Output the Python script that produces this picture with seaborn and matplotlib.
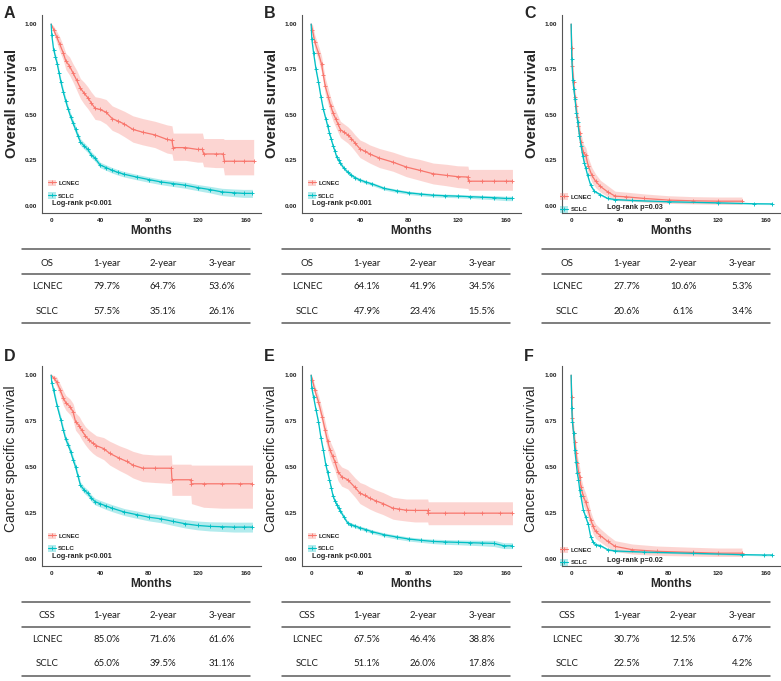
import matplotlib
matplotlib.use("Agg")
import matplotlib.pyplot as plt
import seaborn as sns
from matplotlib.lines import Line2D
from matplotlib.patches import Patch

sns.set_style("white")
plt.rcParams["font.family"] = ["Liberation Sans", "DejaVu Sans"]

RED = "#F8766D"
TEAL = "#00BFC4"

# ---- Kaplan-Meier curves (months, survival, 95% CI) ----
# A: overall survival
a_lcnec_t = [0, 2, 4.5, 7, 10, 12, 15, 18, 21, 24, 27, 30, 33, 36, 40, 45, 50, 55, 60, 67,
             75, 85, 95, 99, 100, 110, 120, 124, 125, 135, 141, 142, 150, 158, 166]
a_lcnec_s = [1.0, 0.97, 0.93, 0.89, 0.84, 0.797, 0.77, 0.73, 0.69, 0.647, 0.62, 0.595, 0.565, 0.536, 0.53,
             0.515, 0.48, 0.465, 0.45, 0.42, 0.405, 0.39, 0.365, 0.36, 0.32, 0.32, 0.31, 0.31, 0.285,
             0.285, 0.285, 0.245, 0.245, 0.245, 0.245]
a_lcnec_lo = [1.0, 0.95, 0.90, 0.85, 0.80, 0.75, 0.72, 0.68, 0.635, 0.59, 0.56, 0.535, 0.505, 0.475, 0.47,
              0.45, 0.415, 0.40, 0.38, 0.35, 0.335, 0.32, 0.29, 0.285, 0.25, 0.25, 0.24, 0.24, 0.215,
              0.21, 0.21, 0.17, 0.17, 0.17, 0.17]
a_lcnec_hi = [1.0, 0.99, 0.96, 0.93, 0.88, 0.84, 0.82, 0.78, 0.745, 0.70, 0.68, 0.655, 0.625, 0.60, 0.595,
              0.585, 0.55, 0.535, 0.52, 0.495, 0.48, 0.465, 0.445, 0.44, 0.40, 0.40, 0.40, 0.40, 0.37,
              0.37, 0.37, 0.365, 0.365, 0.365, 0.365]
a_sclc_t = [0, 0.5, 2, 3.5, 5, 6.5, 8, 10, 12, 14, 16, 18, 20, 22, 24, 27, 30, 33, 36, 40,
            45, 50, 55, 60, 70, 80, 90, 100, 110, 120, 130, 140, 150, 158, 165]
a_sclc_s = [1.0, 0.94, 0.86, 0.82, 0.78, 0.73, 0.68, 0.625, 0.575, 0.53, 0.49, 0.455, 0.42, 0.385, 0.351,
            0.33, 0.31, 0.28, 0.261, 0.225, 0.21, 0.195, 0.183, 0.173, 0.158, 0.144, 0.131, 0.122, 0.113,
            0.10, 0.089, 0.076, 0.071, 0.068, 0.068]
a_sclc_lo = [1.0, 0.93, 0.845, 0.80, 0.76, 0.71, 0.66, 0.605, 0.555, 0.51, 0.47, 0.435, 0.40, 0.366, 0.333,
             0.312, 0.293, 0.263, 0.245, 0.21, 0.195, 0.18, 0.168, 0.158, 0.143, 0.129, 0.116, 0.106,
             0.096, 0.083, 0.071, 0.056, 0.05, 0.046, 0.046]
a_sclc_hi = [1.0, 0.95, 0.875, 0.84, 0.80, 0.75, 0.70, 0.645, 0.595, 0.55, 0.51, 0.475, 0.44, 0.404, 0.369,
             0.348, 0.327, 0.297, 0.277, 0.24, 0.225, 0.21, 0.198, 0.188, 0.173, 0.159, 0.146, 0.138,
             0.13, 0.117, 0.107, 0.096, 0.092, 0.09, 0.09]

# B: overall survival
b_lcnec_t = [0, 1, 3, 6, 8.5, 10, 11.5, 14, 16, 18, 20, 22, 24, 27, 30, 33, 36, 40, 44, 48,
             56, 67, 78, 89, 100, 111, 120, 128.5, 129, 140, 150, 160, 165]
b_lcnec_s = [1.0, 0.97, 0.90, 0.84, 0.78, 0.72, 0.66, 0.60, 0.55, 0.51, 0.48, 0.45, 0.419, 0.405, 0.39,
             0.37, 0.345, 0.313, 0.30, 0.285, 0.262, 0.24, 0.213, 0.195, 0.176, 0.167, 0.16, 0.158,
             0.135, 0.135, 0.135, 0.135, 0.135]
b_lcnec_lo = [1.0, 0.94, 0.86, 0.80, 0.735, 0.675, 0.615, 0.555, 0.505, 0.465, 0.435, 0.405, 0.375, 0.36,
              0.345, 0.325, 0.30, 0.265, 0.25, 0.235, 0.21, 0.19, 0.16, 0.14, 0.12, 0.11, 0.10, 0.095,
              0.085, 0.085, 0.085, 0.085, 0.085]
b_lcnec_hi = [1.0, 1.0, 0.94, 0.88, 0.825, 0.765, 0.705, 0.645, 0.595, 0.555, 0.525, 0.495, 0.465, 0.45,
              0.435, 0.415, 0.39, 0.362, 0.35, 0.335, 0.315, 0.295, 0.27, 0.255, 0.235, 0.228, 0.22,
              0.218, 0.20, 0.20, 0.20, 0.20, 0.20]
b_sclc_t = [0, 0.5, 2, 4, 6, 8, 10, 12, 13.5, 15, 16.5, 18, 19.5, 21, 22.5, 24, 27, 30, 33, 36,
            40, 45, 50, 60, 70, 80, 90, 100, 110, 120, 130, 140, 150, 160, 165]
b_sclc_s = [1.0, 0.92, 0.84, 0.75, 0.68, 0.60, 0.53, 0.479, 0.44, 0.40, 0.365, 0.33, 0.30, 0.267, 0.25,
            0.234, 0.205, 0.185, 0.168, 0.155, 0.142, 0.13, 0.12, 0.095, 0.082, 0.071, 0.064, 0.058,
            0.055, 0.053, 0.05, 0.047, 0.044, 0.04, 0.04]
b_sclc_lo = [1.0, 0.905, 0.826, 0.736, 0.666, 0.586, 0.516, 0.466, 0.427, 0.388, 0.353, 0.318, 0.289,
             0.256, 0.239, 0.223, 0.195, 0.175, 0.158, 0.146, 0.133, 0.121, 0.111, 0.086, 0.073, 0.062,
             0.055, 0.049, 0.046, 0.044, 0.041, 0.037, 0.033, 0.028, 0.028]
b_sclc_hi = [1.0, 0.935, 0.854, 0.764, 0.694, 0.614, 0.544, 0.492, 0.453, 0.412, 0.377, 0.342, 0.311,
             0.278, 0.261, 0.245, 0.215, 0.195, 0.178, 0.164, 0.151, 0.139, 0.129, 0.104, 0.091, 0.08,
             0.073, 0.067, 0.064, 0.062, 0.059, 0.057, 0.055, 0.052, 0.052]

# C: overall survival
c_lcnec_t = [0, 0.5, 1, 2, 3, 4, 5, 6, 7, 8, 10, 12, 14, 17, 20, 24, 30, 36, 45, 60, 80, 100, 120, 140]
c_lcnec_s = [1.0, 0.87, 0.77, 0.68, 0.60, 0.55, 0.49, 0.44, 0.40, 0.35, 0.295, 0.277, 0.22, 0.167, 0.135,
             0.106, 0.076, 0.053, 0.049, 0.04, 0.031, 0.027, 0.025, 0.025]
c_lcnec_lo = [1.0, 0.82, 0.72, 0.63, 0.55, 0.50, 0.44, 0.39, 0.35, 0.30, 0.25, 0.235, 0.18, 0.13, 0.10,
              0.075, 0.05, 0.03, 0.027, 0.02, 0.013, 0.01, 0.008, 0.008]
c_lcnec_hi = [1.0, 0.92, 0.82, 0.73, 0.65, 0.60, 0.54, 0.49, 0.45, 0.40, 0.34, 0.32, 0.265, 0.21, 0.175,
              0.14, 0.11, 0.08, 0.075, 0.065, 0.055, 0.05, 0.048, 0.048]
c_sclc_t = [0, 0.5, 1.4, 2.2, 3.2, 4.3, 5.4, 6.8, 8.1, 9.5, 10.8, 12, 13.5, 16, 19, 24, 30, 36, 50, 80,
            120, 150, 165]
c_sclc_s = [1.0, 0.81, 0.69, 0.64, 0.585, 0.51, 0.46, 0.385, 0.33, 0.276, 0.235, 0.206, 0.167, 0.113,
            0.08, 0.061, 0.04, 0.034, 0.029, 0.022, 0.016, 0.011, 0.01]
c_sclc_lo = [1.0, 0.795, 0.675, 0.625, 0.57, 0.495, 0.445, 0.371, 0.317, 0.264, 0.224, 0.196, 0.158,
             0.105, 0.073, 0.055, 0.035, 0.029, 0.025, 0.018, 0.012, 0.007, 0.006]
c_sclc_hi = [1.0, 0.825, 0.705, 0.655, 0.60, 0.525, 0.475, 0.399, 0.343, 0.288, 0.246, 0.216, 0.176,
             0.121, 0.087, 0.067, 0.045, 0.039, 0.033, 0.026, 0.02, 0.015, 0.014]

# D: cancer specific survival
d_lcnec_t = [0, 2, 4.5, 7.5, 10, 12, 15.5, 18, 20, 23, 25, 28, 31, 34, 37, 43, 48, 56, 62, 67,
             75, 85, 98.5, 99, 114.5, 115, 125, 140, 155, 165]
d_lcnec_s = [1.0, 0.985, 0.964, 0.918, 0.875, 0.85, 0.828, 0.80, 0.746, 0.725, 0.70, 0.67, 0.647, 0.63,
             0.616, 0.60, 0.574, 0.547, 0.53, 0.51, 0.493, 0.493, 0.493, 0.43, 0.43, 0.408, 0.408, 0.408,
             0.408, 0.408]
d_lcnec_lo = [1.0, 0.97, 0.94, 0.885, 0.835, 0.81, 0.785, 0.755, 0.70, 0.675, 0.65, 0.62, 0.595, 0.575,
              0.56, 0.54, 0.51, 0.48, 0.46, 0.44, 0.42, 0.415, 0.41, 0.345, 0.345, 0.30, 0.28, 0.275,
              0.275, 0.275]
d_lcnec_hi = [1.0, 1.0, 0.99, 0.95, 0.915, 0.89, 0.87, 0.845, 0.795, 0.775, 0.75, 0.72, 0.70, 0.685,
              0.67, 0.66, 0.64, 0.615, 0.60, 0.585, 0.57, 0.565, 0.565, 0.515, 0.515, 0.51, 0.51, 0.51,
              0.51, 0.51]
d_sclc_t = [0, 0.5, 2, 5, 8, 10, 12, 14, 16, 18, 20, 22, 24, 27, 30, 33, 36, 40, 45, 50,
            60, 70, 80, 90, 100, 110, 120, 130, 140, 150, 158, 165]
d_sclc_s = [1.0, 0.96, 0.918, 0.83, 0.755, 0.70, 0.65, 0.62, 0.583, 0.54, 0.50, 0.45, 0.40, 0.375, 0.357,
            0.33, 0.311, 0.30, 0.287, 0.275, 0.254, 0.24, 0.226, 0.217, 0.203, 0.19, 0.181, 0.176,
            0.174, 0.172, 0.172, 0.172]
d_sclc_lo = [1.0, 0.95, 0.90, 0.81, 0.735, 0.68, 0.63, 0.60, 0.563, 0.52, 0.48, 0.43, 0.382, 0.357, 0.339,
             0.312, 0.293, 0.282, 0.268, 0.256, 0.235, 0.22, 0.206, 0.196, 0.181, 0.167, 0.157, 0.151,
             0.148, 0.145, 0.145, 0.145]
d_sclc_hi = [1.0, 0.97, 0.936, 0.85, 0.775, 0.72, 0.67, 0.64, 0.603, 0.56, 0.52, 0.47, 0.418, 0.393,
             0.375, 0.348, 0.329, 0.318, 0.306, 0.294, 0.273, 0.26, 0.246, 0.238, 0.225, 0.213, 0.205,
             0.201, 0.20, 0.199, 0.199, 0.199]

# E: cancer specific survival
e_lcnec_t = [0, 1, 3, 6, 9, 11.5, 13.5, 15.5, 17.5, 19.5, 22, 25, 30, 36, 40, 44, 48, 53, 59, 67,
             72, 78, 85, 95.5, 96, 110, 125, 140, 155, 165]
e_lcnec_s = [1.0, 0.975, 0.918, 0.855, 0.774, 0.70, 0.64, 0.592, 0.56, 0.529, 0.475, 0.447, 0.43, 0.388,
             0.357, 0.345, 0.33, 0.315, 0.30, 0.275, 0.27, 0.264, 0.263, 0.263, 0.248, 0.248, 0.248,
             0.248, 0.248, 0.248]
e_lcnec_lo = [1.0, 0.96, 0.89, 0.82, 0.735, 0.655, 0.595, 0.545, 0.51, 0.48, 0.425, 0.395, 0.38, 0.335,
              0.30, 0.285, 0.27, 0.255, 0.24, 0.215, 0.21, 0.205, 0.2, 0.2, 0.185, 0.185, 0.185, 0.185,
              0.185, 0.185]
e_lcnec_hi = [1.0, 0.99, 0.945, 0.89, 0.815, 0.745, 0.685, 0.64, 0.61, 0.58, 0.525, 0.50, 0.485, 0.44,
              0.415, 0.405, 0.39, 0.375, 0.36, 0.335, 0.33, 0.325, 0.325, 0.325, 0.31, 0.31, 0.31, 0.31,
              0.31, 0.31]
e_sclc_t = [0, 0.5, 2, 4, 6, 8, 10, 12, 13.5, 15, 16.5, 18, 19.5, 21, 22.5, 24, 27, 30, 33, 36,
            40, 45, 50, 60, 70, 80, 90, 100, 110, 120, 130, 140, 150, 158, 165]
e_sclc_s = [1.0, 0.93, 0.88, 0.81, 0.746, 0.66, 0.59, 0.511, 0.47, 0.43, 0.385, 0.34, 0.315, 0.295, 0.275,
            0.26, 0.225, 0.194, 0.185, 0.178, 0.168, 0.158, 0.147, 0.13, 0.118, 0.107, 0.10, 0.094,
            0.091, 0.089, 0.087, 0.085, 0.083, 0.07, 0.07]
e_sclc_lo = [1.0, 0.918, 0.868, 0.798, 0.734, 0.648, 0.578, 0.499, 0.458, 0.418, 0.373, 0.328, 0.303,
             0.283, 0.263, 0.248, 0.214, 0.184, 0.175, 0.168, 0.158, 0.148, 0.137, 0.12, 0.107, 0.096,
             0.089, 0.082, 0.078, 0.076, 0.073, 0.07, 0.066, 0.055, 0.055]
e_sclc_hi = [1.0, 0.942, 0.892, 0.822, 0.758, 0.672, 0.602, 0.523, 0.482, 0.442, 0.397, 0.352, 0.327,
             0.307, 0.287, 0.272, 0.236, 0.204, 0.195, 0.188, 0.178, 0.168, 0.157, 0.14, 0.129, 0.118,
             0.111, 0.106, 0.104, 0.102, 0.101, 0.1, 0.1, 0.087, 0.087]

# F: cancer specific survival
f_lcnec_t = [0, 0.5, 1, 2, 3, 4, 5, 6, 7, 8, 10, 12, 14, 16, 18, 20, 24, 30, 36, 50, 70, 100, 120, 140]
f_lcnec_s = [1.0, 0.88, 0.765, 0.683, 0.638, 0.574, 0.52, 0.475, 0.447, 0.393, 0.339, 0.307, 0.266, 0.212,
             0.176, 0.149, 0.125, 0.094, 0.067, 0.049, 0.04, 0.034, 0.03, 0.03]
f_lcnec_lo = [1.0, 0.83, 0.715, 0.635, 0.59, 0.525, 0.47, 0.425, 0.397, 0.345, 0.29, 0.26, 0.22, 0.17,
              0.136, 0.11, 0.09, 0.062, 0.04, 0.025, 0.018, 0.014, 0.012, 0.012]
f_lcnec_hi = [1.0, 0.93, 0.815, 0.733, 0.688, 0.624, 0.57, 0.525, 0.497, 0.443, 0.389, 0.355, 0.312, 0.256,
              0.218, 0.19, 0.163, 0.128, 0.098, 0.08, 0.069, 0.062, 0.058, 0.058]
f_sclc_t = [0, 0.5, 1, 2, 3, 4, 5, 6, 7, 8, 10, 12, 14, 16, 18, 20, 24, 30, 36, 60, 100, 140, 158, 165]
f_sclc_s = [1.0, 0.82, 0.746, 0.683, 0.592, 0.529, 0.466, 0.43, 0.375, 0.339, 0.266, 0.225, 0.188, 0.12,
            0.09, 0.076, 0.071, 0.049, 0.042, 0.036, 0.029, 0.022, 0.02, 0.02]
f_sclc_lo = [1.0, 0.805, 0.731, 0.668, 0.578, 0.515, 0.452, 0.417, 0.362, 0.327, 0.255, 0.215, 0.179,
             0.112, 0.083, 0.07, 0.065, 0.044, 0.037, 0.032, 0.025, 0.018, 0.015, 0.015]
f_sclc_hi = [1.0, 0.835, 0.761, 0.698, 0.606, 0.543, 0.48, 0.443, 0.388, 0.351, 0.277, 0.235, 0.197,
             0.128, 0.097, 0.082, 0.077, 0.054, 0.047, 0.04, 0.033, 0.026, 0.025, 0.025]

# ---- survival tables under each panel ----
years = ["1-year", "2-year", "3-year"]
groups = ["LCNEC", "SCLC"]
tab_a = [["79.7%", "64.7%", "53.6%"], ["57.5%", "35.1%", "26.1%"]]
tab_b = [["64.1%", "41.9%", "34.5%"], ["47.9%", "23.4%", "15.5%"]]
tab_c = [["27.7%", "10.6%", "5.3%"], ["20.6%", "6.1%", "3.4%"]]
tab_d = [["85.0%", "71.6%", "61.6%"], ["65.0%", "39.5%", "31.1%"]]
tab_e = [["67.5%", "46.4%", "38.8%"], ["51.1%", "26.0%", "17.8%"]]
tab_f = [["30.7%", "12.5%", "6.7%"], ["22.5%", "7.1%", "4.2%"]]

letters = ["A", "B", "C", "D", "E", "F"]
logrank = ["Log-rank p<0.001", "Log-rank p<0.001", "Log-rank p=0.03",
           "Log-rank p<0.001", "Log-rank p<0.001", "Log-rank p=0.02"]

panels = [
    ((a_lcnec_t, a_lcnec_s, a_lcnec_lo, a_lcnec_hi), (a_sclc_t, a_sclc_s, a_sclc_lo, a_sclc_hi), tab_a),
    ((b_lcnec_t, b_lcnec_s, b_lcnec_lo, b_lcnec_hi), (b_sclc_t, b_sclc_s, b_sclc_lo, b_sclc_hi), tab_b),
    ((c_lcnec_t, c_lcnec_s, c_lcnec_lo, c_lcnec_hi), (c_sclc_t, c_sclc_s, c_sclc_lo, c_sclc_hi), tab_c),
    ((d_lcnec_t, d_lcnec_s, d_lcnec_lo, d_lcnec_hi), (d_sclc_t, d_sclc_s, d_sclc_lo, d_sclc_hi), tab_d),
    ((e_lcnec_t, e_lcnec_s, e_lcnec_lo, e_lcnec_hi), (e_sclc_t, e_sclc_s, e_sclc_lo, e_sclc_hi), tab_e),
    ((f_lcnec_t, f_lcnec_s, f_lcnec_lo, f_lcnec_hi), (f_sclc_t, f_sclc_s, f_sclc_lo, f_sclc_hi), tab_f),
]

W, H = 781, 681
fig = plt.figure(figsize=(W / 100, H / 100), dpi=100)


def fx(px):
    return px / W


def fy(py):
    return 1 - py / H


def km(ax, curve, color):
    t, s, lo, hi = curve
    ax.fill_between(t, lo, hi, color=color, alpha=0.3, lw=0)
    sns.lineplot(x=t, y=s, ax=ax, color=color, lw=0.9, estimator=None, sort=False)
    ax.plot(t[1:], s[1:], ls="none", marker="+", ms=3.4, mew=0.65, color=color)


def table(x0, ytop, kind, rows):
    cols = [47, 107, 163, 222]
    for yy in [ytop, ytop + 25, ytop + 74]:
        fig.add_artist(Line2D([fx(x0 + 22), fx(x0 + 250)], [fy(yy), fy(yy)],
                              transform=fig.transFigure, color="#5a5a5a", lw=1.1))
    tkw = dict(ha="center", va="center", fontsize=6.9, family=["Lato", "DejaVu Sans"], color="#1a1a1a")
    for c, txt in zip(cols, [kind] + years):
        fig.text(fx(x0 + c), fy(ytop + 14), txt, **tkw)
    for r, (g, vals) in enumerate(zip(groups, rows)):
        yy = ytop + 38 + 24 * r
        for c, txt in zip(cols, [g] + vals):
            fig.text(fx(x0 + c), fy(yy), txt, **tkw)


for i, (lc, sc, tab) in enumerate(panels):
    row, col = divmod(i, 3)
    x0 = 260 * col
    top = 15 if row == 0 else 366
    bottom = 213 if row == 0 else 566
    ax = fig.add_axes([fx(x0 + 42), fy(bottom), fx(219), (bottom - top) / H])

    km(ax, lc, RED)
    km(ax, sc, TEAL)

    ax.set_xlim(-7.5, 172)
    ax.set_ylim(-0.04, 1.05)
    ax.set_xticks([0, 40, 80, 120, 160])
    ax.set_yticks([0, 0.25, 0.5, 0.75, 1.0])
    ax.set_yticklabels(["0.00", "0.25", "0.50", "0.75", "1.00"])
    for sp in ["top", "right"]:
        ax.spines[sp].set_visible(False)
    for sp in ["left", "bottom"]:
        ax.spines[sp].set_color("#555555")
        ax.spines[sp].set_linewidth(0.8)
    ax.tick_params(length=2.2, width=0.6, color="#555555", labelsize=4.6, pad=1.5)
    for lab in ax.get_xticklabels() + ax.get_yticklabels():
        lab.set_fontweight("bold")
        lab.set_color("#222222")

    ax.set_xlabel("Months", fontsize=8.5, fontweight="bold", labelpad=1)
    if row == 0:
        ax.set_ylabel("Overall survival", fontsize=10.5, fontweight="bold")
        ax.yaxis.set_label_coords(-0.105, 0.555)
    else:
        ax.set_ylabel("Cancer specific survival", fontsize=10)
        ax.yaxis.set_label_coords(-0.11, 0.535)

    fig.text(fx(x0 + 4), fy(top - 9 if row == 0 else top - 17), letters[i],
             fontsize=11.5, fontweight="bold", va="top", ha="left")

    handles = [(Patch(color=RED, alpha=0.3, lw=0),
                Line2D([], [], color=RED, lw=0.8, marker="+", ms=3, mew=0.6)),
               (Patch(color=TEAL, alpha=0.3, lw=0),
                Line2D([], [], color=TEAL, lw=0.8, marker="+", ms=3, mew=0.6))]
    if col < 2:
        leg_anchor = (0.02, 0.065)
        ax.text(0.045, 0.05, logrank[i], transform=ax.transAxes, fontsize=5.2,
                fontweight="bold", va="center", ha="left")
    else:
        leg_anchor = (-0.015, -0.005)
        ax.text(0.205, 0.028, logrank[i], transform=ax.transAxes, fontsize=5.2,
                fontweight="bold", va="center", ha="left")
    ax.legend(handles, groups, loc="lower left", bbox_to_anchor=leg_anchor, frameon=False,
              prop={"size": 4.5, "weight": "bold"}, handlelength=1.3, handleheight=1.3,
              labelspacing=0.9, handletextpad=0.4, borderaxespad=0, borderpad=0.2)

    table(x0, 249 if row == 0 else 602, "OS" if row == 0 else "CSS", tab)

fig.savefig("out.png", dpi=100)
